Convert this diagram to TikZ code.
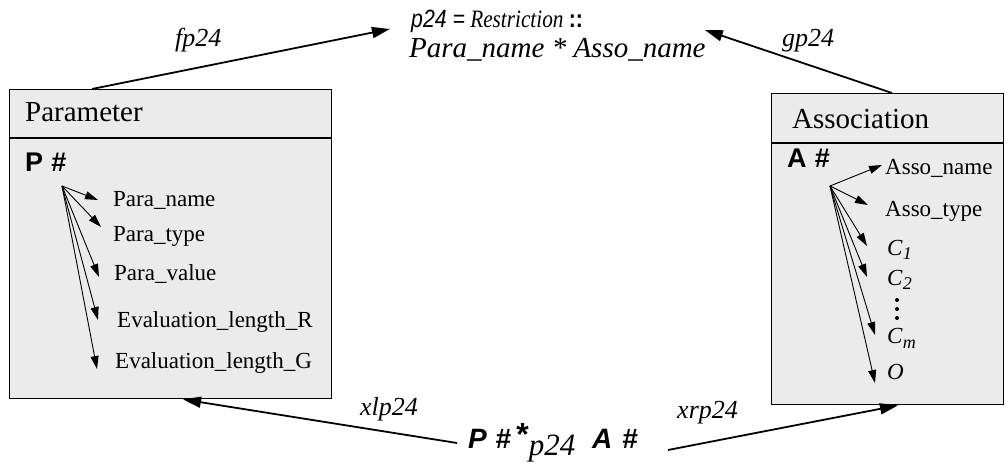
\documentclass[tikz,border=0pt]{standalone}
\usepackage{fontspec}
\setmainfont{Liberation Serif}
\setsansfont{Liberation Sans}
\usetikzlibrary{arrows.meta}
\definecolor{boxgray}{HTML}{EBEBEB}
\newcommand{\subidx}[1]{\raisebox{-5pt}{\fontsize{18}{20}\selectfont\itshape #1}}
\tikzset{
  boxst/.style={draw, line width=1.4pt, fill=boxgray, inner sep=0, anchor=north west},
  hdr/.style={font=\fontsize{29}{33}\selectfont, anchor=base west, inner sep=0},
  attr/.style={font=\fontsize{23}{27}\selectfont, anchor=base west, inner sep=0},
  keyt/.style={font=\fontsize{27}{30}\selectfont\sffamily\bfseries, anchor=base west, inner sep=0},
  lbl/.style={font=\fontsize{26}{30}\selectfont\itshape, anchor=base west, inner sep=0},
  toptxt/.style={anchor=base west, inner sep=0},
  smallarr/.style={line width=0.9pt, -{Triangle[length=13pt,width=8pt]}},
  bigarr/.style={line width=1.8pt, -{Triangle[length=18pt,width=11pt]}},
  dotst/.style={fill=black, draw=none},
}
\begin{document}
\begin{tikzpicture}[x=1pt,y=-1pt]
\useasboundingbox (0,0) rectangle (1006,470);

% boxes
\node[boxst, minimum width=322pt, minimum height=309pt] (param) at (9,89) {};
\draw[line width=1.4pt] (param.west |- 0,138) -- (param.east |- 0,138);
\node[boxst, minimum width=232pt, minimum height=311pt] (assoc) at (771,93) {};
\draw[line width=1.4pt] (assoc.west |- 0,143) -- (assoc.east |- 0,143);

% Parameter box content
\node[hdr] (ph) at (25,122) {Parameter};
\node[keyt] (pk) at (25,172) {P\hspace{0.3em}\#};
\coordinate (po) at (62,186);
\node[attr] (pn) at (113,207) {Para\_name};
\node[attr] (pt) at (113,242) {Para\_type};
\node[attr] (pv) at (114,280) {Para\_value};
\node[attr] (pr) at (117,327) {Evaluation\_length\_R};
\node[attr] (pg) at (115,368) {Evaluation\_length\_G};
\draw[smallarr] (po) -- ([xshift=-15pt,yshift=7pt]pn.base west);
\draw[smallarr] (po) -- ([xshift=-12pt,yshift=15pt]pt.base west);
\draw[smallarr] (po) -- ([xshift=-15pt,yshift=3pt]pv.base west);
\draw[smallarr] (po) -- ([xshift=-19pt,yshift=7pt]pr.base west);
\draw[smallarr] (po) -- ([xshift=-18pt,yshift=-1pt]pg.base west);

% Association box content
\node[hdr] (ah) at (792,129) {Association};
\node[keyt] (ak) at (787,168) {A\hspace{0.3em}\#};
\coordinate (ao) at (830,186);
\node[attr] (an) at (885,175) {Asso\_name};
\node[attr] (at) at (885,217) {Asso\_type};
\node[attr] (c1) at (887,255) {\textit{C}\subidx{1}};
\node[attr] (c2) at (887,285) {\textit{C}\subidx{2}};
\fill[dotst] (897,300) circle (2pt) (897,309) circle (2pt) (897,318) circle (2pt);
\node[attr] (cm) at (887,343) {\textit{C}\subidx{m}};
\node[attr] (oo) at (887,379) {\textit{O}};
\draw[smallarr] (ao) -- ([xshift=-3pt,yshift=10pt]an.base west);
\draw[smallarr] (ao) -- ([xshift=-17pt,yshift=12pt]at.base west);
\draw[smallarr] (ao) -- ([xshift=-20pt,yshift=9pt]c1.base west);
\draw[smallarr] (ao) -- ([xshift=-20pt,yshift=8pt]c2.base west);
\draw[smallarr] (ao) -- ([xshift=-12pt,yshift=8pt]cm.base west);
\draw[smallarr] (ao) -- ([xshift=-12pt,yshift=-4pt]oo.base west);

% top restriction text
\node[toptxt, font=\fontsize{25}{29}\selectfont] (r1) at (411,28) {\scalebox{0.85}[1]{{\sffamily\itshape p24 =} \textit{Restriction} {\sffamily\bfseries ::}}};
\node[toptxt, font=\fontsize{29}{33}\selectfont] (r2) at (409,58) {\textit{Para\_name * Asso\_name}};

% bottom product text
\node[toptxt, font=\fontsize{28}{32}\selectfont] (bot) at (468,448)
  {{\sffamily\bfseries\itshape P\hspace{0.3em}\#}\hspace{0.2em}\raisebox{3pt}{\fontsize{32}{34}\selectfont\sffamily\bfseries *}\raisebox{-7pt}{\fontsize{31}{34}\selectfont\itshape p24}\hspace{0.6em}{\sffamily\bfseries\itshape A\hspace{0.35em}\#}};

% connectors
\draw[bigarr] ([xshift=83pt]param.north west) -- ([xshift=-21pt,yshift=-1pt]r1.base west);
\draw[bigarr] ([xshift=121pt]assoc.north west) -- ([xshift=-1pt,yshift=28pt]r2.base east);
\draw[bigarr] ([xshift=-11pt,yshift=5pt]bot.base west) -- ([xshift=174pt]param.south west);
\draw[bigarr] ([xshift=30pt,yshift=-2pt]bot.base east) -- ([xshift=127pt]assoc.south west);

% labels
\node[lbl] (lf) at (175,47) {fp24};
\node[lbl] (lg) at (782,47) {gp24};
\node[lbl] (lxl) at (360,415) {xlp24};
\node[lbl] (lxr) at (677,418) {xrp24};
\end{tikzpicture}
\end{document}
